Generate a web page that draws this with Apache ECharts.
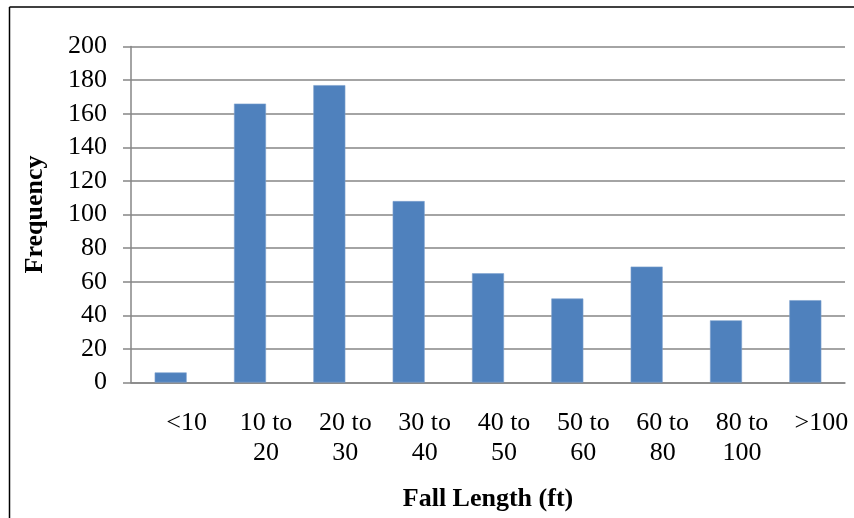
<!DOCTYPE html>
<html>
<head>
<meta charset="utf-8">
<script src="https://cdn.jsdelivr.net/npm/echarts@6/dist/echarts.min.js"></script>
<style>
  html, body { margin: 0; padding: 0; background: #fff; }
  #chart { width: 854px; height: 518px; }
</style>
</head>
<body>
<div id="chart"></div>
<script>
// Fall length bins and their frequencies
const categories = ['<10', '10 to\n20', '20 to\n30', '30 to\n40', '40 to\n50', '50 to\n60', '60 to\n80', '80 to\n100', '>100'];
const frequency = [6, 166, 177, 108, 65, 50, 69, 37, 49];
const yTicks = { min: 0, max: 200, interval: 20 };

const serif = '"Liberation Serif", "DejaVu Serif", serif';
const chart = echarts.init(document.getElementById('chart'), null, { renderer: 'canvas' });

chart.setOption({
  backgroundColor: '#ffffff',
  animation: false,
  grid: {
    left: 131, right: 9, top: 46.5, bottom: 135.5,
    containLabel: false, outerBoundsMode: 'none'
  },
  xAxis: {
    type: 'category',
    data: categories,
    axisLine: { show: true, lineStyle: { color: '#868686', width: 1.5 } },
    axisTick: { show: false },
    axisLabel: {
      color: '#000', fontFamily: serif, fontSize: 26, lineHeight: 30,
      margin: 26, interval: 0, align: 'center', padding: [0, 0, 0, 32]
    },
    name: 'Fall Length (ft)',
    nameLocation: 'middle',
    nameGap: 104,
    nameTextStyle: { color: '#000', fontFamily: serif, fontSize: 26, fontWeight: 'bold' }
  },
  yAxis: {
    type: 'value',
    min: yTicks.min, max: yTicks.max, interval: yTicks.interval,
    axisLine: { show: true, lineStyle: { color: '#868686', width: 1.5 } },
    axisTick: { show: true, inside: false, length: 8, lineStyle: { color: '#868686', width: 1.5 } },
    splitLine: { show: true, lineStyle: { color: '#868686', width: 1.5 } },
    axisLabel: { color: '#000', fontFamily: serif, fontSize: 26, margin: 24 },
    name: 'Frequency',
    nameLocation: 'middle',
    nameGap: 83,
    nameRotate: 90,
    nameTextStyle: { color: '#000', fontFamily: serif, fontSize: 26, fontWeight: 'bold' }
  },
  series: [{
    type: 'bar',
    data: frequency,
    barWidth: 32,
    itemStyle: { color: '#4F81BD', borderColor: '#7EA1CF', borderWidth: 0.6 }
  }],
  graphic: [
    { type: 'line', shape: { x1: 9.5, y1: 7, x2: 854, y2: 7 }, style: { stroke: '#000', lineWidth: 1.5 } },
    { type: 'line', shape: { x1: 9.5, y1: 7, x2: 9.5, y2: 518 }, style: { stroke: '#000', lineWidth: 1.5 } }
  ]
});
</script>
</body>
</html>
